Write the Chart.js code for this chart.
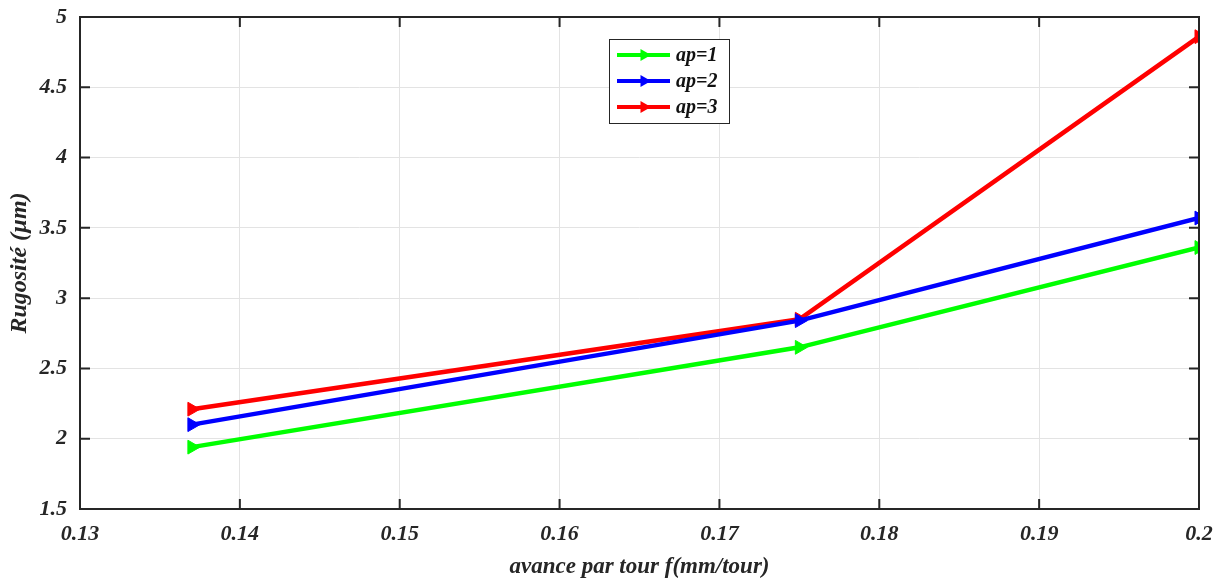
<!DOCTYPE html>
<html>
<head>
<meta charset="utf-8">
<script src="https://cdn.jsdelivr.net/npm/chart.js@4.4.1/dist/chart.umd.min.js"></script>
<style>
  html, body { margin: 0; padding: 0; background: #fff; }
  #wrap { width: 1224px; height: 581px; }
</style>
</head>
<body>
<div id="wrap"><canvas id="chart"></canvas></div>
<script>
// feed rate (mm/tour) and roughness (µm) for each depth of cut
const feed = [0.137, 0.175, 0.2];
const ap1 = [1.94, 2.65, 3.36];
const ap2 = [2.10, 2.84, 3.57];
const ap3 = [2.21, 2.85, 4.86];
const seriesLabels = ['ap=1', 'ap=2', 'ap=3'];
const seriesColors = ['#00ff00', '#0000ff', '#ff0000'];
const xTicks = [0.13, 0.14, 0.15, 0.16, 0.17, 0.18, 0.19, 0.2];
const yTicks = [1.5, 2, 2.5, 3, 3.5, 4, 4.5, 5];

const FONT = "'Liberation Serif', 'Times New Roman', serif";

function series(values, i) {
    return {
        label: seriesLabels[i],
        data: feed.map((f, k) => ({ x: f, y: values[k] })),
        showLine: true,
        borderColor: seriesColors[i],
        backgroundColor: seriesColors[i],
        borderWidth: 4.5,
        pointStyle: 'triangle',
        pointRotation: 90,
        pointRadius: 8,
        pointBorderWidth: 1,
        tension: 0
    };
}

// box round the plot with inward tick marks on all sides
const boxPlugin = {
    id: 'box',
    afterDraw(chart) {
        const { ctx, chartArea: a, scales } = chart;
        const len = 10;
        ctx.save();
        ctx.strokeStyle = '#262626';
        ctx.lineWidth = 2;
        ctx.strokeRect(a.left, a.top, a.right - a.left, a.bottom - a.top);
        ctx.beginPath();
        scales.x.ticks.forEach(t => {
            const px = scales.x.getPixelForValue(t.value);
            ctx.moveTo(px, a.bottom); ctx.lineTo(px, a.bottom - len);
            ctx.moveTo(px, a.top); ctx.lineTo(px, a.top + len);
        });
        scales.y.ticks.forEach(t => {
            const py = scales.y.getPixelForValue(t.value);
            ctx.moveTo(a.left, py); ctx.lineTo(a.left + len, py);
            ctx.moveTo(a.right, py); ctx.lineTo(a.right - len, py);
        });
        ctx.stroke();
        ctx.restore();
    }
};

// legend box inside the plot
const legendPlugin = {
    id: 'boxLegend',
    afterDraw(chart) {
        const ctx = chart.ctx;
        const x0 = 609, y0 = 39, w = 120, h = 84;
        ctx.save();
        ctx.fillStyle = '#fff';
        ctx.fillRect(x0, y0, w, h);
        ctx.strokeStyle = '#262626';
        ctx.lineWidth = 1;
        ctx.strokeRect(x0 + 0.5, y0 + 0.5, w, h);
        chart.data.datasets.forEach((ds, i) => {
            const y = y0 + 16 + i * 26;
            ctx.strokeStyle = ds.borderColor;
            ctx.fillStyle = ds.borderColor;
            ctx.lineWidth = 4;
            ctx.beginPath();
            ctx.moveTo(x0 + 8, y);
            ctx.lineTo(x0 + 61, y);
            ctx.stroke();
            const cx = x0 + 35;
            ctx.beginPath();
            ctx.moveTo(cx + 7, y);
            ctx.lineTo(cx - 3.5, y - 6);
            ctx.lineTo(cx - 3.5, y + 6);
            ctx.closePath();
            ctx.fill();
            ctx.fillStyle = '#111';
            ctx.font = 'italic bold 20px ' + FONT;
            ctx.textBaseline = 'middle';
            ctx.fillText(ds.label, x0 + 67, y + 1);
        });
        ctx.restore();
    }
};

const fmt = v => String(+v.toFixed(2));

new Chart('chart', {
    type: 'scatter',
    data: {
        datasets: [series(ap1, 0), series(ap2, 1), series(ap3, 2)]
    },
    options: {
        responsive: true,
        maintainAspectRatio: false,
        animation: false,
        layout: { padding: { left: 0, top: 17, right: 25, bottom: 0 } },
        plugins: {
            legend: { display: false },
            tooltip: { enabled: false }
        },
        scales: {
            x: {
                type: 'linear',
                min: 0.13,
                max: 0.2,
                afterBuildTicks: s => { s.ticks = xTicks.map(v => ({ value: v })); },
                afterFit: s => { s.height = 72; s.paddingLeft = 0; s.paddingRight = 0; },
                grid: { color: '#e3e3e3', lineWidth: 1, drawTicks: false },
                border: { display: false },
                ticks: {
                    padding: 12,
                    color: '#262626',
                    font: { family: FONT, size: 22, style: 'italic', weight: 'bold' },
                    callback: fmt
                },
                title: {
                    display: true,
                    text: 'avance par tour f(mm/tour)',
                    color: '#262626',
                    padding: { top: 0, bottom: 0 },
                    font: { family: FONT, size: 23, style: 'italic', weight: 'bold' }
                }
            },
            y: {
                min: 1.5,
                max: 5,
                afterBuildTicks: s => { s.ticks = yTicks.map(v => ({ value: v })); },
                afterFit: s => { s.width = 80; s.paddingTop = 0; s.paddingBottom = 0; },
                grid: { color: '#e3e3e3', lineWidth: 1, drawTicks: false },
                border: { display: false },
                ticks: {
                    padding: 13,
                    color: '#262626',
                    font: { family: FONT, size: 22, style: 'italic', weight: 'bold' },
                    callback: fmt
                },
                title: {
                    display: true,
                    text: 'Rugosité (µm)',
                    color: '#262626',
                    padding: { top: 5, bottom: 0 },
                    font: { family: FONT, size: 24, style: 'italic', weight: 'bold' }
                }
            }
        }
    },
    plugins: [boxPlugin, legendPlugin]
});
</script>
</body>
</html>
